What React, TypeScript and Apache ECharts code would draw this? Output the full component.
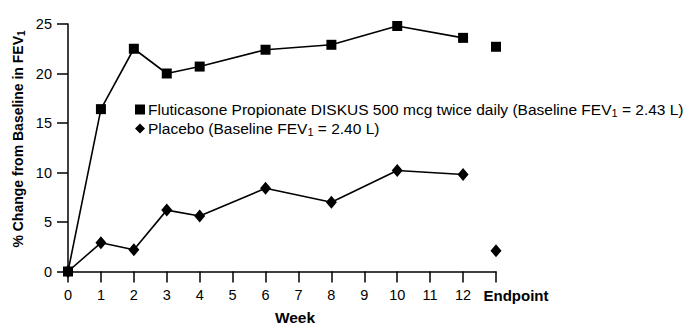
import React, { useEffect, useRef } from "react";
import * as echarts from "echarts";

const weeks = ["0", "1", "2", "3", "4", "5", "6", "7", "8", "9", "10", "11", "12", "Endpoint"];
const fluticasone = [0, 16.4, 22.5, 20.0, 20.7, null, 22.4, null, 22.9, null, 24.8, null, 23.6, null];
const placebo = [0, 2.9, 2.2, 6.2, 5.6, null, 8.4, null, 7.0, null, 10.2, null, 9.8, null];
const fluticasoneEndpoint = [null, null, null, null, null, null, null, null, null, null, null, null, null, 22.7];
const placeboEndpoint = [null, null, null, null, null, null, null, null, null, null, null, null, null, 2.1];
const yTicks = { min: 0, max: 25, interval: 5 };
const seriesNames = [
  "Fluticasone Propionate DISKUS 500 mcg twice daily (Baseline FEV{sub|1} = 2.43 L)",
  "Placebo (Baseline FEV{sub|1} = 2.40 L)",
];

const FONT = "'Liberation Sans', Arial, Helvetica, sans-serif";

export default function App() {
  const ref = useRef<HTMLDivElement>(null);
  useEffect(() => {
    document.body.style.margin = "0";
    const chart = echarts.init(ref.current!, undefined, { renderer: "svg" });
    const sq = { symbol: "rect", symbolSize: 10 };
    const dm = { symbol: "diamond", symbolSize: [11, 13] };
    chart.setOption({
      animation: false,
      textStyle: { fontFamily: FONT },
      grid: { left: 68, right: 203, top: 24, bottom: 62.5, containLabel: false },
      legend: {
        left: 135,
        top: 101,
        padding: 0,
        orient: "vertical",
        itemWidth: 10,
        itemHeight: 10,
        itemGap: 2,
        selectedMode: false,
        data: [
          { name: seriesNames[0], icon: "rect" },
          { name: seriesNames[1], icon: "diamond", itemStyle: { borderWidth: 0 } },
        ],
        textStyle: {
          fontFamily: FONT,
          fontSize: 15.5,
          lineHeight: 17,
          color: "#000",
          padding: [0, 0, 0, -2],
          rich: {
            sub: { fontSize: 11, fontFamily: FONT, color: "#000", padding: [6, 0, 0, 0] },
          },
        },
      },
      xAxis: {
        type: "category",
        data: weeks,
        boundaryGap: false,
        axisLine: { lineStyle: { color: "#000", width: 1.5 } },
        axisTick: { alignWithLabel: true, length: 11, lineStyle: { color: "#000", width: 1.5 }, interval: 0 },
        axisLabel: {
          interval: 0,
          margin: 16,
          fontSize: 14.5,
          color: "#000",
          fontFamily: FONT,
          formatter: (v: string) => (v === "Endpoint" ? "{b|Endpoint}" : v),
          rich: {
            b: { fontWeight: "bold", fontSize: 15, color: "#000", fontFamily: FONT, padding: [0, 0, 0, 40] },
          },
        },
        splitLine: { show: false },
      },
      yAxis: {
        type: "value",
        min: yTicks.min,
        max: yTicks.max,
        interval: yTicks.interval,
        axisLine: { show: true, lineStyle: { color: "#000", width: 1.5 } },
        axisTick: { show: true, length: 11, lineStyle: { color: "#000", width: 1.5 } },
        axisLabel: { margin: 16, fontSize: 14.5, color: "#000", fontFamily: FONT },
        splitLine: { show: false },
      },
      graphic: [
        {
          type: "text",
          x: 295,
          y: 317,
          style: {
            text: "Week",
            font: `bold 15.5px ${FONT}`,
            fill: "#000",
            align: "center",
            verticalAlign: "middle",
          },
        },
        {
          type: "text",
          x: 18,
          y: 139,
          rotation: Math.PI / 2,
          style: {
            text: "% Change from Baseline in FEV{sub|1}",
            font: `bold 14px ${FONT}`,
            fill: "#000",
            align: "center",
            verticalAlign: "middle",
            rich: {
              sub: { font: `bold 10px ${FONT}`, fill: "#000", padding: [6, 0, 0, 0] },
            },
          },
        },
      ],
      series: [
        {
          name: seriesNames[0],
          type: "line",
          data: fluticasone,
          connectNulls: true,
          ...sq,
          itemStyle: { color: "#000" },
          lineStyle: { color: "#000", width: 1.6 },
          z: 3,
        },
        {
          name: seriesNames[1],
          type: "line",
          data: placebo,
          connectNulls: true,
          ...dm,
          itemStyle: { color: "#000" },
          lineStyle: { color: "#000", width: 1.6 },
          z: 3,
        },
        {
          name: "FP endpoint",
          type: "scatter",
          data: fluticasoneEndpoint,
          ...sq,
          itemStyle: { color: "#000", opacity: 1 },
        },
        {
          name: "Placebo endpoint",
          type: "scatter",
          data: placeboEndpoint,
          ...dm,
          itemStyle: { color: "#000", opacity: 1 },
        },
      ],
    });
    return () => chart.dispose();
  }, []);
  return <div ref={ref} style={{ width: 699, height: 334 }} />;
}
